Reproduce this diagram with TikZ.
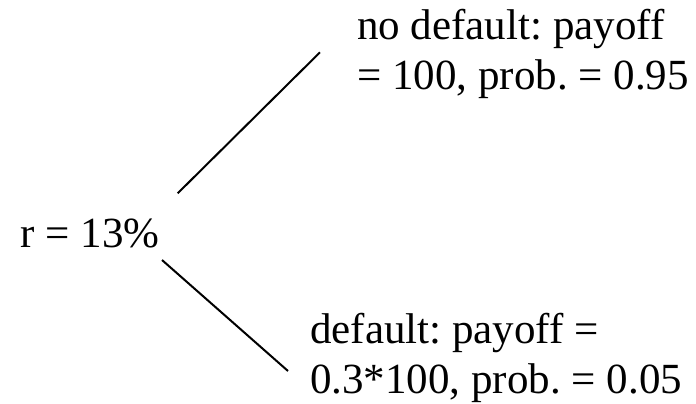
\documentclass[tikz,border=0pt]{standalone}
\usepackage{fontspec}
\setmainfont{Liberation Serif}
\frenchspacing
\begin{document}
\begin{tikzpicture}[x=1bp,y=-1bp,
  lbl/.style={inner sep=0pt,anchor=base west,font=\fontsize{43bp}{50bp}\selectfont\frenchspacing},
  branch/.style={line width=2bp,black}]
\useasboundingbox (0,0) rectangle (696,403);
\node[lbl] (root) at (20.7,247) {r = 13\%};
\node[lbl] (up) at (357,39) {\begin{tabular}[t]{@{}l@{}}no default: payoff\\= 100, prob. = 0.95\end{tabular}};
\node[lbl] (down) at (310,343.7) {\begin{tabular}[t]{@{}l@{}}default: payoff =\\0.3*100, prob. = 0.05\end{tabular}};
\draw[branch] ([shift={(157,-53.7)}]root.base west) -- ([shift={(-37,13.3)}]up.base west);
\draw[branch] ([shift={(141.3,13)}]root.base west) -- ([shift={(-22,27.3)}]down.base west);
\end{tikzpicture}
\end{document}
